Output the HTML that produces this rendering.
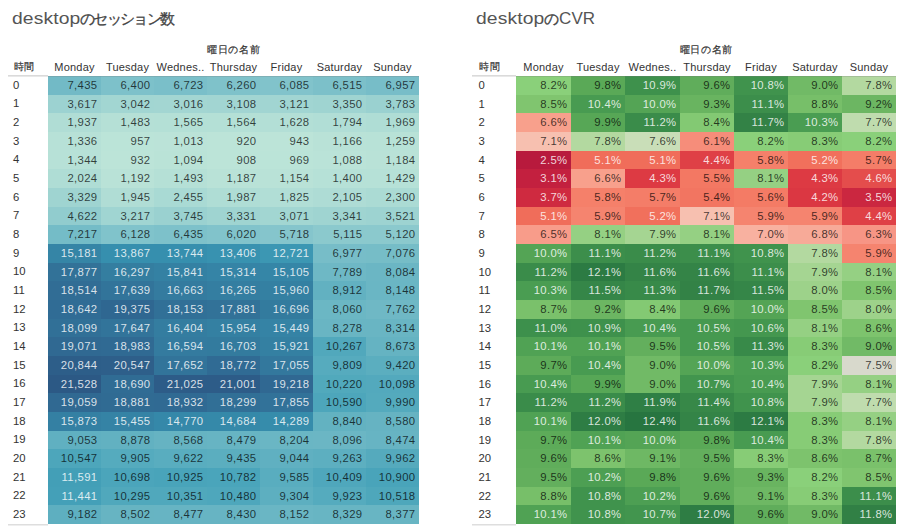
<!DOCTYPE html>
<html><head><meta charset="utf-8"><style>
html,body{margin:0;padding:0;background:#fff;width:904px;height:530px;overflow:hidden;position:relative}
body{font-family:"Liberation Sans",sans-serif;}
div{position:absolute;box-sizing:border-box;white-space:nowrap}
.title{top:5.7px;font-size:16.5px;line-height:24px;color:#555}
.title .en{display:inline-block;transform:scaleX(1.17);transform-origin:0 0;margin-right:10px;letter-spacing:0.1px}
.title .jp{font-size:15px;letter-spacing:-1.7px;color:#444;-webkit-text-stroke:0.3px #444}
.title .cvr{font-size:17px;margin-left:1.5px}
.dayhdr{top:42px;height:16px;line-height:16px;font-size:9.9px;letter-spacing:0.7px;text-indent:0.7px;color:#333;text-align:center;-webkit-text-stroke:0.2px #333}
.hhdr{top:59px;height:16px;line-height:16px;font-size:10px;letter-spacing:0.6px;margin-left:0.6px;color:#333;-webkit-text-stroke:0.2px #333}
.colhdr{top:59px;height:16px;line-height:16px;font-size:11px;color:#333;text-align:center;letter-spacing:0.2px}
.hline{height:2px;background:#dadada;border-bottom:1px solid #e8e8e8}
.hline2{height:1px;background:rgba(120,120,120,0.25);z-index:2}
.hline.b{height:2px;background:#dedede;border-bottom:1px solid #eeeeee}
.rl{height:18.666666666666668px;line-height:18.666666666666668px;font-size:11.3px;color:#333}
.c{font-size:11.3px;color:rgba(0,0,0,0.72);text-align:right;letter-spacing:0.35px}
.c.w{color:rgba(255,255,255,0.82)}
</style></head><body>
<div class="title" style="left:11.5px"><span class="en">desktop</span><span class="jp">のセッション数</span></div>
<div class="dayhdr" style="left:48px;width:371.0px">曜日の名前</div>
<div class="hhdr" style="left:13px">時間</div>
<div class="colhdr" style="left:48px;width:53px">Monday</div>
<div class="colhdr" style="left:101px;width:53px">Tuesday</div>
<div class="colhdr" style="left:154px;width:53px">Wednes..</div>
<div class="colhdr" style="left:207px;width:53px">Thursday</div>
<div class="colhdr" style="left:260px;width:53px">Friday</div>
<div class="colhdr" style="left:313px;width:53px">Saturday</div>
<div class="colhdr" style="left:366px;width:53px">Sunday</div>
<div class="hline" style="left:8px;width:40px;top:75px"></div>
<div class="hline2" style="left:48px;width:371px;top:76px"></div>
<div class="hline b" style="left:8px;width:40px;top:524px"></div>
<div class="rl" style="left:13px;top:75.8px">0</div>
<div class="c" style="left:48px;top:76px;width:53px;height:19px;line-height:19px;padding-right:3.6px;background:#72bac6">7,435</div>
<div class="c" style="left:101px;top:76px;width:53px;height:19px;line-height:19px;padding-right:3.6px;background:#7dc1ca">6,400</div>
<div class="c" style="left:154px;top:76px;width:53px;height:19px;line-height:19px;padding-right:3.6px;background:#7abfc9">6,723</div>
<div class="c" style="left:207px;top:76px;width:53px;height:19px;line-height:19px;padding-right:3.6px;background:#7fc2ca">6,260</div>
<div class="c" style="left:260px;top:76px;width:53px;height:19px;line-height:19px;padding-right:3.6px;background:#81c3cb">6,085</div>
<div class="c" style="left:313px;top:76px;width:53px;height:19px;line-height:19px;padding-right:3.6px;background:#7cc0c9">6,515</div>
<div class="c" style="left:366px;top:76px;width:53px;height:19px;line-height:19px;padding-right:3.6px;background:#77bdc8">6,957</div>
<div class="rl" style="left:13px;top:94.46666666666667px">1</div>
<div class="c" style="left:48px;top:95px;width:53px;height:18px;line-height:18px;padding-right:3.6px;background:#9cd2d1">3,617</div>
<div class="c" style="left:101px;top:95px;width:53px;height:18px;line-height:18px;padding-right:3.6px;background:#a2d6d2">3,042</div>
<div class="c" style="left:154px;top:95px;width:53px;height:18px;line-height:18px;padding-right:3.6px;background:#a3d6d2">3,016</div>
<div class="c" style="left:207px;top:95px;width:53px;height:18px;line-height:18px;padding-right:3.6px;background:#a2d5d2">3,108</div>
<div class="c" style="left:260px;top:95px;width:53px;height:18px;line-height:18px;padding-right:3.6px;background:#a1d5d2">3,121</div>
<div class="c" style="left:313px;top:95px;width:53px;height:18px;line-height:18px;padding-right:3.6px;background:#9fd4d1">3,350</div>
<div class="c" style="left:366px;top:95px;width:53px;height:18px;line-height:18px;padding-right:3.6px;background:#9ad1d0">3,783</div>
<div class="rl" style="left:13px;top:113.13333333333334px">2</div>
<div class="c" style="left:48px;top:113px;width:53px;height:19px;line-height:19px;padding-right:3.6px;background:#b0ddd5">1,937</div>
<div class="c" style="left:101px;top:113px;width:53px;height:19px;line-height:19px;padding-right:3.6px;background:#b5e0d6">1,483</div>
<div class="c" style="left:154px;top:113px;width:53px;height:19px;line-height:19px;padding-right:3.6px;background:#b4e0d6">1,565</div>
<div class="c" style="left:207px;top:113px;width:53px;height:19px;line-height:19px;padding-right:3.6px;background:#b4e0d6">1,564</div>
<div class="c" style="left:260px;top:113px;width:53px;height:19px;line-height:19px;padding-right:3.6px;background:#b3dfd6">1,628</div>
<div class="c" style="left:313px;top:113px;width:53px;height:19px;line-height:19px;padding-right:3.6px;background:#b1ded6">1,794</div>
<div class="c" style="left:366px;top:113px;width:53px;height:19px;line-height:19px;padding-right:3.6px;background:#afddd5">1,969</div>
<div class="rl" style="left:13px;top:131.8px">3</div>
<div class="c" style="left:48px;top:132px;width:53px;height:19px;line-height:19px;padding-right:3.6px;background:#b7e1d7">1,336</div>
<div class="c" style="left:101px;top:132px;width:53px;height:19px;line-height:19px;padding-right:3.6px;background:#bbe4d8">957</div>
<div class="c" style="left:154px;top:132px;width:53px;height:19px;line-height:19px;padding-right:3.6px;background:#bbe3d8">1,013</div>
<div class="c" style="left:207px;top:132px;width:53px;height:19px;line-height:19px;padding-right:3.6px;background:#bce4d8">920</div>
<div class="c" style="left:260px;top:132px;width:53px;height:19px;line-height:19px;padding-right:3.6px;background:#bce4d8">943</div>
<div class="c" style="left:313px;top:132px;width:53px;height:19px;line-height:19px;padding-right:3.6px;background:#b9e2d7">1,166</div>
<div class="c" style="left:366px;top:132px;width:53px;height:19px;line-height:19px;padding-right:3.6px;background:#b8e2d7">1,259</div>
<div class="rl" style="left:13px;top:150.4666666666667px">4</div>
<div class="c" style="left:48px;top:151px;width:53px;height:18px;line-height:18px;padding-right:3.6px;background:#b7e1d7">1,344</div>
<div class="c" style="left:101px;top:151px;width:53px;height:18px;line-height:18px;padding-right:3.6px;background:#bce4d8">932</div>
<div class="c" style="left:154px;top:151px;width:53px;height:18px;line-height:18px;padding-right:3.6px;background:#bae3d7">1,094</div>
<div class="c" style="left:207px;top:151px;width:53px;height:18px;line-height:18px;padding-right:3.6px;background:#bce4d8">908</div>
<div class="c" style="left:260px;top:151px;width:53px;height:18px;line-height:18px;padding-right:3.6px;background:#bbe4d8">969</div>
<div class="c" style="left:313px;top:151px;width:53px;height:18px;line-height:18px;padding-right:3.6px;background:#bae3d8">1,088</div>
<div class="c" style="left:366px;top:151px;width:53px;height:18px;line-height:18px;padding-right:3.6px;background:#b9e2d7">1,184</div>
<div class="rl" style="left:13px;top:169.13333333333335px">5</div>
<div class="c" style="left:48px;top:169px;width:53px;height:19px;line-height:19px;padding-right:3.6px;background:#afddd5">2,024</div>
<div class="c" style="left:101px;top:169px;width:53px;height:19px;line-height:19px;padding-right:3.6px;background:#b9e2d7">1,192</div>
<div class="c" style="left:154px;top:169px;width:53px;height:19px;line-height:19px;padding-right:3.6px;background:#b5e0d6">1,493</div>
<div class="c" style="left:207px;top:169px;width:53px;height:19px;line-height:19px;padding-right:3.6px;background:#b9e2d7">1,187</div>
<div class="c" style="left:260px;top:169px;width:53px;height:19px;line-height:19px;padding-right:3.6px;background:#b9e2d7">1,154</div>
<div class="c" style="left:313px;top:169px;width:53px;height:19px;line-height:19px;padding-right:3.6px;background:#b6e1d7">1,400</div>
<div class="c" style="left:366px;top:169px;width:53px;height:19px;line-height:19px;padding-right:3.6px;background:#b6e1d7">1,429</div>
<div class="rl" style="left:13px;top:187.8px">6</div>
<div class="c" style="left:48px;top:188px;width:53px;height:19px;line-height:19px;padding-right:3.6px;background:#9fd4d1">3,329</div>
<div class="c" style="left:101px;top:188px;width:53px;height:19px;line-height:19px;padding-right:3.6px;background:#b0ddd5">1,945</div>
<div class="c" style="left:154px;top:188px;width:53px;height:19px;line-height:19px;padding-right:3.6px;background:#a9dad4">2,455</div>
<div class="c" style="left:207px;top:188px;width:53px;height:19px;line-height:19px;padding-right:3.6px;background:#afddd5">1,987</div>
<div class="c" style="left:260px;top:188px;width:53px;height:19px;line-height:19px;padding-right:3.6px;background:#b1ded6">1,825</div>
<div class="c" style="left:313px;top:188px;width:53px;height:19px;line-height:19px;padding-right:3.6px;background:#aedcd5">2,105</div>
<div class="c" style="left:366px;top:188px;width:53px;height:19px;line-height:19px;padding-right:3.6px;background:#abdbd4">2,300</div>
<div class="rl" style="left:13px;top:206.4666666666667px">7</div>
<div class="c" style="left:48px;top:207px;width:53px;height:18px;line-height:18px;padding-right:3.6px;background:#91ccce">4,622</div>
<div class="c" style="left:101px;top:207px;width:53px;height:18px;line-height:18px;padding-right:3.6px;background:#a0d5d2">3,217</div>
<div class="c" style="left:154px;top:207px;width:53px;height:18px;line-height:18px;padding-right:3.6px;background:#9ad1d0">3,745</div>
<div class="c" style="left:207px;top:207px;width:53px;height:18px;line-height:18px;padding-right:3.6px;background:#9fd4d1">3,331</div>
<div class="c" style="left:260px;top:207px;width:53px;height:18px;line-height:18px;padding-right:3.6px;background:#a2d6d2">3,071</div>
<div class="c" style="left:313px;top:207px;width:53px;height:18px;line-height:18px;padding-right:3.6px;background:#9fd4d1">3,341</div>
<div class="c" style="left:366px;top:207px;width:53px;height:18px;line-height:18px;padding-right:3.6px;background:#9dd3d1">3,521</div>
<div class="rl" style="left:13px;top:225.13333333333335px">8</div>
<div class="c" style="left:48px;top:225px;width:53px;height:19px;line-height:19px;padding-right:3.6px;background:#74bcc7">7,217</div>
<div class="c" style="left:101px;top:225px;width:53px;height:19px;line-height:19px;padding-right:3.6px;background:#80c3cb">6,128</div>
<div class="c" style="left:154px;top:225px;width:53px;height:19px;line-height:19px;padding-right:3.6px;background:#7dc1ca">6,435</div>
<div class="c" style="left:207px;top:225px;width:53px;height:19px;line-height:19px;padding-right:3.6px;background:#81c3cb">6,020</div>
<div class="c" style="left:260px;top:225px;width:53px;height:19px;line-height:19px;padding-right:3.6px;background:#85c5cc">5,718</div>
<div class="c" style="left:313px;top:225px;width:53px;height:19px;line-height:19px;padding-right:3.6px;background:#8bc9cd">5,115</div>
<div class="c" style="left:366px;top:225px;width:53px;height:19px;line-height:19px;padding-right:3.6px;background:#8bc9cd">5,120</div>
<div class="rl" style="left:13px;top:243.8px">9</div>
<div class="c w" style="left:48px;top:244px;width:53px;height:19px;line-height:19px;padding-right:3.6px;background:#3585a6">15,181</div>
<div class="c w" style="left:101px;top:244px;width:53px;height:19px;line-height:19px;padding-right:3.6px;background:#368fae">13,867</div>
<div class="c w" style="left:154px;top:244px;width:53px;height:19px;line-height:19px;padding-right:3.6px;background:#368fae">13,744</div>
<div class="c w" style="left:207px;top:244px;width:53px;height:19px;line-height:19px;padding-right:3.6px;background:#3892b0">13,406</div>
<div class="c w" style="left:260px;top:244px;width:53px;height:19px;line-height:19px;padding-right:3.6px;background:#3c97b3">12,721</div>
<div class="c" style="left:313px;top:244px;width:53px;height:19px;line-height:19px;padding-right:3.6px;background:#77bdc8">6,977</div>
<div class="c" style="left:366px;top:244px;width:53px;height:19px;line-height:19px;padding-right:3.6px;background:#76bdc7">7,076</div>
<div class="rl" style="left:13px;top:262.4666666666667px">10</div>
<div class="c w" style="left:48px;top:263px;width:53px;height:18px;line-height:18px;padding-right:3.6px;background:#327298">17,877</div>
<div class="c w" style="left:101px;top:263px;width:53px;height:18px;line-height:18px;padding-right:3.6px;background:#347ea0">16,297</div>
<div class="c w" style="left:154px;top:263px;width:53px;height:18px;line-height:18px;padding-right:3.6px;background:#3481a3">15,841</div>
<div class="c w" style="left:207px;top:263px;width:53px;height:18px;line-height:18px;padding-right:3.6px;background:#3584a6">15,314</div>
<div class="c w" style="left:260px;top:263px;width:53px;height:18px;line-height:18px;padding-right:3.6px;background:#3586a7">15,105</div>
<div class="c" style="left:313px;top:263px;width:53px;height:18px;line-height:18px;padding-right:3.6px;background:#6eb8c5">7,789</div>
<div class="c" style="left:366px;top:263px;width:53px;height:18px;line-height:18px;padding-right:3.6px;background:#6bb6c4">8,084</div>
<div class="rl" style="left:13px;top:281.1333333333334px">11</div>
<div class="c w" style="left:48px;top:281px;width:53px;height:19px;line-height:19px;padding-right:3.6px;background:#316d95">18,514</div>
<div class="c w" style="left:101px;top:281px;width:53px;height:19px;line-height:19px;padding-right:3.6px;background:#32749a">17,639</div>
<div class="c w" style="left:154px;top:281px;width:53px;height:19px;line-height:19px;padding-right:3.6px;background:#347b9f">16,663</div>
<div class="c w" style="left:207px;top:281px;width:53px;height:19px;line-height:19px;padding-right:3.6px;background:#347ea1">16,265</div>
<div class="c w" style="left:260px;top:281px;width:53px;height:19px;line-height:19px;padding-right:3.6px;background:#3480a2">15,960</div>
<div class="c" style="left:313px;top:281px;width:53px;height:19px;line-height:19px;padding-right:3.6px;background:#62b1c1">8,912</div>
<div class="c" style="left:366px;top:281px;width:53px;height:19px;line-height:19px;padding-right:3.6px;background:#6ab6c4">8,148</div>
<div class="rl" style="left:13px;top:299.8px">12</div>
<div class="c w" style="left:48px;top:300px;width:53px;height:19px;line-height:19px;padding-right:3.6px;background:#306c95">18,642</div>
<div class="c w" style="left:101px;top:300px;width:53px;height:19px;line-height:19px;padding-right:3.6px;background:#2f6791">19,375</div>
<div class="c w" style="left:154px;top:300px;width:53px;height:19px;line-height:19px;padding-right:3.6px;background:#317097">18,153</div>
<div class="c w" style="left:207px;top:300px;width:53px;height:19px;line-height:19px;padding-right:3.6px;background:#327298">17,881</div>
<div class="c w" style="left:260px;top:300px;width:53px;height:19px;line-height:19px;padding-right:3.6px;background:#337b9e">16,696</div>
<div class="c" style="left:313px;top:300px;width:53px;height:19px;line-height:19px;padding-right:3.6px;background:#6bb7c4">8,060</div>
<div class="c" style="left:366px;top:300px;width:53px;height:19px;line-height:19px;padding-right:3.6px;background:#6fb8c5">7,762</div>
<div class="rl" style="left:13px;top:318.4666666666667px">13</div>
<div class="c w" style="left:48px;top:319px;width:53px;height:18px;line-height:18px;padding-right:3.6px;background:#317097">18,099</div>
<div class="c w" style="left:101px;top:319px;width:53px;height:18px;line-height:18px;padding-right:3.6px;background:#32749a">17,647</div>
<div class="c w" style="left:154px;top:319px;width:53px;height:18px;line-height:18px;padding-right:3.6px;background:#347da0">16,404</div>
<div class="c w" style="left:207px;top:319px;width:53px;height:18px;line-height:18px;padding-right:3.6px;background:#3480a2">15,954</div>
<div class="c w" style="left:260px;top:319px;width:53px;height:18px;line-height:18px;padding-right:3.6px;background:#3583a5">15,449</div>
<div class="c" style="left:313px;top:319px;width:53px;height:18px;line-height:18px;padding-right:3.6px;background:#69b5c3">8,278</div>
<div class="c" style="left:366px;top:319px;width:53px;height:18px;line-height:18px;padding-right:3.6px;background:#69b5c3">8,314</div>
<div class="rl" style="left:13px;top:337.1333333333334px">14</div>
<div class="c w" style="left:48px;top:337px;width:53px;height:19px;line-height:19px;padding-right:3.6px;background:#306992">19,071</div>
<div class="c w" style="left:101px;top:337px;width:53px;height:19px;line-height:19px;padding-right:3.6px;background:#306a93">18,983</div>
<div class="c w" style="left:154px;top:337px;width:53px;height:19px;line-height:19px;padding-right:3.6px;background:#347b9f">16,594</div>
<div class="c w" style="left:207px;top:337px;width:53px;height:19px;line-height:19px;padding-right:3.6px;background:#337b9e">16,703</div>
<div class="c w" style="left:260px;top:337px;width:53px;height:19px;line-height:19px;padding-right:3.6px;background:#3480a2">15,921</div>
<div class="c" style="left:313px;top:337px;width:53px;height:19px;line-height:19px;padding-right:3.6px;background:#51a8bc">10,267</div>
<div class="c" style="left:366px;top:337px;width:53px;height:19px;line-height:19px;padding-right:3.6px;background:#65b3c2">8,673</div>
<div class="rl" style="left:13px;top:355.8px">15</div>
<div class="c w" style="left:48px;top:356px;width:53px;height:19px;line-height:19px;padding-right:3.6px;background:#2d5e89">20,844</div>
<div class="c w" style="left:101px;top:356px;width:53px;height:19px;line-height:19px;padding-right:3.6px;background:#2e5f8a">20,547</div>
<div class="c w" style="left:154px;top:356px;width:53px;height:19px;line-height:19px;padding-right:3.6px;background:#32749a">17,652</div>
<div class="c w" style="left:207px;top:356px;width:53px;height:19px;line-height:19px;padding-right:3.6px;background:#306b94">18,772</div>
<div class="c w" style="left:260px;top:356px;width:53px;height:19px;line-height:19px;padding-right:3.6px;background:#33789d">17,055</div>
<div class="c" style="left:313px;top:356px;width:53px;height:19px;line-height:19px;padding-right:3.6px;background:#56abbe">9,809</div>
<div class="c" style="left:366px;top:356px;width:53px;height:19px;line-height:19px;padding-right:3.6px;background:#5baebf">9,420</div>
<div class="rl" style="left:13px;top:374.4666666666667px">16</div>
<div class="c w" style="left:48px;top:375px;width:53px;height:18px;line-height:18px;padding-right:3.6px;background:#2c5985">21,528</div>
<div class="c w" style="left:101px;top:375px;width:53px;height:18px;line-height:18px;padding-right:3.6px;background:#306c94">18,690</div>
<div class="c w" style="left:154px;top:375px;width:53px;height:18px;line-height:18px;padding-right:3.6px;background:#2d5c88">21,025</div>
<div class="c w" style="left:207px;top:375px;width:53px;height:18px;line-height:18px;padding-right:3.6px;background:#2d5c88">21,001</div>
<div class="c w" style="left:260px;top:375px;width:53px;height:18px;line-height:18px;padding-right:3.6px;background:#306892">19,218</div>
<div class="c" style="left:313px;top:375px;width:53px;height:18px;line-height:18px;padding-right:3.6px;background:#51a9bc">10,220</div>
<div class="c" style="left:366px;top:375px;width:53px;height:18px;line-height:18px;padding-right:3.6px;background:#53a9bd">10,098</div>
<div class="rl" style="left:13px;top:393.1333333333334px">17</div>
<div class="c w" style="left:48px;top:393px;width:53px;height:19px;line-height:19px;padding-right:3.6px;background:#306992">19,059</div>
<div class="c w" style="left:101px;top:393px;width:53px;height:19px;line-height:19px;padding-right:3.6px;background:#306b93">18,881</div>
<div class="c w" style="left:154px;top:393px;width:53px;height:19px;line-height:19px;padding-right:3.6px;background:#306a93">18,932</div>
<div class="c w" style="left:207px;top:393px;width:53px;height:19px;line-height:19px;padding-right:3.6px;background:#316f96">18,299</div>
<div class="c w" style="left:260px;top:393px;width:53px;height:19px;line-height:19px;padding-right:3.6px;background:#327299">17,855</div>
<div class="c" style="left:313px;top:393px;width:53px;height:19px;line-height:19px;padding-right:3.6px;background:#4da6bb">10,590</div>
<div class="c" style="left:366px;top:393px;width:53px;height:19px;line-height:19px;padding-right:3.6px;background:#54aabd">9,990</div>
<div class="rl" style="left:13px;top:411.8px">18</div>
<div class="c w" style="left:48px;top:412px;width:53px;height:19px;line-height:19px;padding-right:3.6px;background:#3480a3">15,873</div>
<div class="c w" style="left:101px;top:412px;width:53px;height:19px;line-height:19px;padding-right:3.6px;background:#3583a5">15,455</div>
<div class="c w" style="left:154px;top:412px;width:53px;height:19px;line-height:19px;padding-right:3.6px;background:#3588a9">14,770</div>
<div class="c w" style="left:207px;top:412px;width:53px;height:19px;line-height:19px;padding-right:3.6px;background:#3589a9">14,684</div>
<div class="c w" style="left:260px;top:412px;width:53px;height:19px;line-height:19px;padding-right:3.6px;background:#368cab">14,289</div>
<div class="c" style="left:313px;top:412px;width:53px;height:19px;line-height:19px;padding-right:3.6px;background:#63b2c1">8,840</div>
<div class="c" style="left:366px;top:412px;width:53px;height:19px;line-height:19px;padding-right:3.6px;background:#66b3c2">8,580</div>
<div class="rl" style="left:13px;top:430.4666666666667px">19</div>
<div class="c" style="left:48px;top:431px;width:53px;height:18px;line-height:18px;padding-right:3.6px;background:#60b0c1">9,053</div>
<div class="c" style="left:101px;top:431px;width:53px;height:18px;line-height:18px;padding-right:3.6px;background:#62b1c1">8,878</div>
<div class="c" style="left:154px;top:431px;width:53px;height:18px;line-height:18px;padding-right:3.6px;background:#66b3c2">8,568</div>
<div class="c" style="left:207px;top:431px;width:53px;height:18px;line-height:18px;padding-right:3.6px;background:#67b4c3">8,479</div>
<div class="c" style="left:260px;top:431px;width:53px;height:18px;line-height:18px;padding-right:3.6px;background:#6ab6c4">8,204</div>
<div class="c" style="left:313px;top:431px;width:53px;height:18px;line-height:18px;padding-right:3.6px;background:#6bb6c4">8,096</div>
<div class="c" style="left:366px;top:431px;width:53px;height:18px;line-height:18px;padding-right:3.6px;background:#67b4c3">8,474</div>
<div class="rl" style="left:13px;top:449.1333333333334px">20</div>
<div class="c" style="left:48px;top:449px;width:53px;height:19px;line-height:19px;padding-right:3.6px;background:#4da6bb">10,547</div>
<div class="c" style="left:101px;top:449px;width:53px;height:19px;line-height:19px;padding-right:3.6px;background:#55abbe">9,905</div>
<div class="c" style="left:154px;top:449px;width:53px;height:19px;line-height:19px;padding-right:3.6px;background:#59adbf">9,622</div>
<div class="c" style="left:207px;top:449px;width:53px;height:19px;line-height:19px;padding-right:3.6px;background:#5baebf">9,435</div>
<div class="c" style="left:260px;top:449px;width:53px;height:19px;line-height:19px;padding-right:3.6px;background:#60b0c1">9,044</div>
<div class="c" style="left:313px;top:449px;width:53px;height:19px;line-height:19px;padding-right:3.6px;background:#5dafc0">9,263</div>
<div class="c" style="left:366px;top:449px;width:53px;height:19px;line-height:19px;padding-right:3.6px;background:#55aabd">9,962</div>
<div class="rl" style="left:13px;top:467.8px">21</div>
<div class="c w" style="left:48px;top:468px;width:53px;height:19px;line-height:19px;padding-right:3.6px;background:#439fb7">11,591</div>
<div class="c" style="left:101px;top:468px;width:53px;height:19px;line-height:19px;padding-right:3.6px;background:#4ba5bb">10,698</div>
<div class="c" style="left:154px;top:468px;width:53px;height:19px;line-height:19px;padding-right:3.6px;background:#49a4ba">10,925</div>
<div class="c" style="left:207px;top:468px;width:53px;height:19px;line-height:19px;padding-right:3.6px;background:#4aa5bb">10,782</div>
<div class="c" style="left:260px;top:468px;width:53px;height:19px;line-height:19px;padding-right:3.6px;background:#59adbf">9,585</div>
<div class="c" style="left:313px;top:468px;width:53px;height:19px;line-height:19px;padding-right:3.6px;background:#4fa7bc">10,409</div>
<div class="c" style="left:366px;top:468px;width:53px;height:19px;line-height:19px;padding-right:3.6px;background:#49a4ba">10,900</div>
<div class="rl" style="left:13px;top:486.4666666666667px">22</div>
<div class="c w" style="left:48px;top:487px;width:53px;height:18px;line-height:18px;padding-right:3.6px;background:#44a0b8">11,441</div>
<div class="c" style="left:101px;top:487px;width:53px;height:18px;line-height:18px;padding-right:3.6px;background:#50a8bc">10,295</div>
<div class="c" style="left:154px;top:487px;width:53px;height:18px;line-height:18px;padding-right:3.6px;background:#50a8bc">10,351</div>
<div class="c" style="left:207px;top:487px;width:53px;height:18px;line-height:18px;padding-right:3.6px;background:#4ea7bc">10,480</div>
<div class="c" style="left:260px;top:487px;width:53px;height:18px;line-height:18px;padding-right:3.6px;background:#5dafc0">9,304</div>
<div class="c" style="left:313px;top:487px;width:53px;height:18px;line-height:18px;padding-right:3.6px;background:#55abbe">9,923</div>
<div class="c" style="left:366px;top:487px;width:53px;height:18px;line-height:18px;padding-right:3.6px;background:#4ea7bb">10,518</div>
<div class="rl" style="left:13px;top:505.1333333333334px">23</div>
<div class="c" style="left:48px;top:505px;width:53px;height:19px;line-height:19px;padding-right:3.6px;background:#5eafc0">9,182</div>
<div class="c" style="left:101px;top:505px;width:53px;height:19px;line-height:19px;padding-right:3.6px;background:#67b4c2">8,502</div>
<div class="c" style="left:154px;top:505px;width:53px;height:19px;line-height:19px;padding-right:3.6px;background:#67b4c3">8,477</div>
<div class="c" style="left:207px;top:505px;width:53px;height:19px;line-height:19px;padding-right:3.6px;background:#67b4c3">8,430</div>
<div class="c" style="left:260px;top:505px;width:53px;height:19px;line-height:19px;padding-right:3.6px;background:#6ab6c4">8,152</div>
<div class="c" style="left:313px;top:505px;width:53px;height:19px;line-height:19px;padding-right:3.6px;background:#68b5c3">8,329</div>
<div class="c" style="left:366px;top:505px;width:53px;height:19px;line-height:19px;padding-right:3.6px;background:#68b5c3">8,377</div>
<div class="title" style="left:475.8px"><span class="en">desktop</span><span class="jp">の</span><span class="cvr">CVR</span></div>
<div class="dayhdr" style="left:516px;width:380.0px">曜日の名前</div>
<div class="hhdr" style="left:478.5px">時間</div>
<div class="colhdr" style="left:516px;width:55px">Monday</div>
<div class="colhdr" style="left:571px;width:54px">Tuesday</div>
<div class="colhdr" style="left:625px;width:55px">Wednes..</div>
<div class="colhdr" style="left:680px;width:54px">Thursday</div>
<div class="colhdr" style="left:734px;width:54px">Friday</div>
<div class="colhdr" style="left:788px;width:54px">Saturday</div>
<div class="colhdr" style="left:842px;width:54px">Sunday</div>
<div class="hline" style="left:472px;width:44px;top:75px"></div>
<div class="hline2" style="left:516px;width:380px;top:76px"></div>
<div class="hline b" style="left:472px;width:44px;top:524px"></div>
<div class="rl" style="left:478.5px;top:76.0px">0</div>
<div class="c" style="left:516px;top:76px;width:55px;height:19px;line-height:19px;padding-right:3.5px;background:#8ad07a">8.2%</div>
<div class="c" style="left:571px;top:76px;width:54px;height:19px;line-height:19px;padding-right:3.5px;background:#5aa957">9.8%</div>
<div class="c w" style="left:625px;top:76px;width:55px;height:19px;line-height:19px;padding-right:3.5px;background:#3e914c">10.9%</div>
<div class="c" style="left:680px;top:76px;width:54px;height:19px;line-height:19px;padding-right:3.5px;background:#60ad5b">9.6%</div>
<div class="c w" style="left:734px;top:76px;width:54px;height:19px;line-height:19px;padding-right:3.5px;background:#40934d">10.8%</div>
<div class="c" style="left:788px;top:76px;width:54px;height:19px;line-height:19px;padding-right:3.5px;background:#71ba66">9.0%</div>
<div class="c" style="left:842px;top:76px;width:54px;height:19px;line-height:19px;padding-right:3.5px;background:#b3d9a0">7.8%</div>
<div class="rl" style="left:478.5px;top:94.66666666666667px">1</div>
<div class="c" style="left:516px;top:95px;width:55px;height:18px;line-height:18px;padding-right:3.5px;background:#80c56f">8.5%</div>
<div class="c w" style="left:571px;top:95px;width:54px;height:18px;line-height:18px;padding-right:3.5px;background:#489b51">10.4%</div>
<div class="c w" style="left:625px;top:95px;width:55px;height:18px;line-height:18px;padding-right:3.5px;background:#54a455">10.0%</div>
<div class="c" style="left:680px;top:95px;width:54px;height:18px;line-height:18px;padding-right:3.5px;background:#69b460">9.3%</div>
<div class="c w" style="left:734px;top:95px;width:54px;height:18px;line-height:18px;padding-right:3.5px;background:#3c8e4b">11.1%</div>
<div class="c" style="left:788px;top:95px;width:54px;height:18px;line-height:18px;padding-right:3.5px;background:#77bf69">8.8%</div>
<div class="c" style="left:842px;top:95px;width:54px;height:18px;line-height:18px;padding-right:3.5px;background:#6cb662">9.2%</div>
<div class="rl" style="left:478.5px;top:113.33333333333334px">2</div>
<div class="c" style="left:516px;top:113px;width:55px;height:19px;line-height:19px;padding-right:3.5px;background:#f8a08c">6.6%</div>
<div class="c" style="left:571px;top:113px;width:54px;height:19px;line-height:19px;padding-right:3.5px;background:#57a756">9.9%</div>
<div class="c w" style="left:625px;top:113px;width:55px;height:19px;line-height:19px;padding-right:3.5px;background:#3a8c4a">11.2%</div>
<div class="c" style="left:680px;top:113px;width:54px;height:19px;line-height:19px;padding-right:3.5px;background:#83c973">8.4%</div>
<div class="c w" style="left:734px;top:113px;width:54px;height:19px;line-height:19px;padding-right:3.5px;background:#338246">11.7%</div>
<div class="c w" style="left:788px;top:113px;width:54px;height:19px;line-height:19px;padding-right:3.5px;background:#4a9d52">10.3%</div>
<div class="c" style="left:842px;top:113px;width:54px;height:19px;line-height:19px;padding-right:3.5px;background:#bfdcae">7.7%</div>
<div class="rl" style="left:478.5px;top:132.0px">3</div>
<div class="c" style="left:516px;top:132px;width:55px;height:19px;line-height:19px;padding-right:3.5px;background:#f7c0b0">7.1%</div>
<div class="c" style="left:571px;top:132px;width:54px;height:19px;line-height:19px;padding-right:3.5px;background:#b3d9a0">7.8%</div>
<div class="c" style="left:625px;top:132px;width:55px;height:19px;line-height:19px;padding-right:3.5px;background:#c9deb8">7.6%</div>
<div class="c" style="left:680px;top:132px;width:54px;height:19px;line-height:19px;padding-right:3.5px;background:#f68d7a">6.1%</div>
<div class="c" style="left:734px;top:132px;width:54px;height:19px;line-height:19px;padding-right:3.5px;background:#8ad07a">8.2%</div>
<div class="c" style="left:788px;top:132px;width:54px;height:19px;line-height:19px;padding-right:3.5px;background:#87cc76">8.3%</div>
<div class="c" style="left:842px;top:132px;width:54px;height:19px;line-height:19px;padding-right:3.5px;background:#8ad07a">8.2%</div>
<div class="rl" style="left:478.5px;top:150.66666666666669px">4</div>
<div class="c w" style="left:516px;top:151px;width:55px;height:18px;line-height:18px;padding-right:3.5px;background:#b81a3d">2.5%</div>
<div class="c w" style="left:571px;top:151px;width:54px;height:18px;line-height:18px;padding-right:3.5px;background:#f06d5a">5.1%</div>
<div class="c w" style="left:625px;top:151px;width:55px;height:18px;line-height:18px;padding-right:3.5px;background:#f06d5a">5.1%</div>
<div class="c w" style="left:680px;top:151px;width:54px;height:18px;line-height:18px;padding-right:3.5px;background:#df4046">4.4%</div>
<div class="c" style="left:734px;top:151px;width:54px;height:18px;line-height:18px;padding-right:3.5px;background:#f5806a">5.8%</div>
<div class="c w" style="left:788px;top:151px;width:54px;height:18px;line-height:18px;padding-right:3.5px;background:#f1705c">5.2%</div>
<div class="c" style="left:842px;top:151px;width:54px;height:18px;line-height:18px;padding-right:3.5px;background:#f47d68">5.7%</div>
<div class="rl" style="left:478.5px;top:169.33333333333334px">5</div>
<div class="c w" style="left:516px;top:169px;width:55px;height:19px;line-height:19px;padding-right:3.5px;background:#c3203f">3.1%</div>
<div class="c" style="left:571px;top:169px;width:54px;height:19px;line-height:19px;padding-right:3.5px;background:#f8a08c">6.6%</div>
<div class="c w" style="left:625px;top:169px;width:55px;height:19px;line-height:19px;padding-right:3.5px;background:#dd3a43">4.3%</div>
<div class="c" style="left:680px;top:169px;width:54px;height:19px;line-height:19px;padding-right:3.5px;background:#f37863">5.5%</div>
<div class="c" style="left:734px;top:169px;width:54px;height:19px;line-height:19px;padding-right:3.5px;background:#95d083">8.1%</div>
<div class="c w" style="left:788px;top:169px;width:54px;height:19px;line-height:19px;padding-right:3.5px;background:#dd3a43">4.3%</div>
<div class="c w" style="left:842px;top:169px;width:54px;height:19px;line-height:19px;padding-right:3.5px;background:#e44d4c">4.6%</div>
<div class="rl" style="left:478.5px;top:188.0px">6</div>
<div class="c w" style="left:516px;top:188px;width:55px;height:19px;line-height:19px;padding-right:3.5px;background:#cf2a40">3.7%</div>
<div class="c" style="left:571px;top:188px;width:54px;height:19px;line-height:19px;padding-right:3.5px;background:#f5806a">5.8%</div>
<div class="c" style="left:625px;top:188px;width:55px;height:19px;line-height:19px;padding-right:3.5px;background:#f47d68">5.7%</div>
<div class="c" style="left:680px;top:188px;width:54px;height:19px;line-height:19px;padding-right:3.5px;background:#f27561">5.4%</div>
<div class="c" style="left:734px;top:188px;width:54px;height:19px;line-height:19px;padding-right:3.5px;background:#f47b65">5.6%</div>
<div class="c w" style="left:788px;top:188px;width:54px;height:19px;line-height:19px;padding-right:3.5px;background:#db3742">4.2%</div>
<div class="c w" style="left:842px;top:188px;width:54px;height:19px;line-height:19px;padding-right:3.5px;background:#cb2740">3.5%</div>
<div class="rl" style="left:478.5px;top:206.66666666666669px">7</div>
<div class="c w" style="left:516px;top:207px;width:55px;height:18px;line-height:18px;padding-right:3.5px;background:#f06d5a">5.1%</div>
<div class="c" style="left:571px;top:207px;width:54px;height:18px;line-height:18px;padding-right:3.5px;background:#f5846f">5.9%</div>
<div class="c w" style="left:625px;top:207px;width:55px;height:18px;line-height:18px;padding-right:3.5px;background:#f1705c">5.2%</div>
<div class="c" style="left:680px;top:207px;width:54px;height:18px;line-height:18px;padding-right:3.5px;background:#f7c0b0">7.1%</div>
<div class="c" style="left:734px;top:207px;width:54px;height:18px;line-height:18px;padding-right:3.5px;background:#f5846f">5.9%</div>
<div class="c" style="left:788px;top:207px;width:54px;height:18px;line-height:18px;padding-right:3.5px;background:#f5846f">5.9%</div>
<div class="c w" style="left:842px;top:207px;width:54px;height:18px;line-height:18px;padding-right:3.5px;background:#df4046">4.4%</div>
<div class="rl" style="left:478.5px;top:225.33333333333334px">8</div>
<div class="c" style="left:516px;top:225px;width:55px;height:19px;line-height:19px;padding-right:3.5px;background:#f89c8a">6.5%</div>
<div class="c" style="left:571px;top:225px;width:54px;height:19px;line-height:19px;padding-right:3.5px;background:#95d083">8.1%</div>
<div class="c" style="left:625px;top:225px;width:55px;height:19px;line-height:19px;padding-right:3.5px;background:#a5d592">7.9%</div>
<div class="c" style="left:680px;top:225px;width:54px;height:19px;line-height:19px;padding-right:3.5px;background:#95d083">8.1%</div>
<div class="c" style="left:734px;top:225px;width:54px;height:19px;line-height:19px;padding-right:3.5px;background:#f8b1a0">7.0%</div>
<div class="c" style="left:788px;top:225px;width:54px;height:19px;line-height:19px;padding-right:3.5px;background:#f7aa98">6.8%</div>
<div class="c" style="left:842px;top:225px;width:54px;height:19px;line-height:19px;padding-right:3.5px;background:#f79585">6.3%</div>
<div class="rl" style="left:478.5px;top:244.0px">9</div>
<div class="c w" style="left:516px;top:244px;width:55px;height:19px;line-height:19px;padding-right:3.5px;background:#54a455">10.0%</div>
<div class="c w" style="left:571px;top:244px;width:54px;height:19px;line-height:19px;padding-right:3.5px;background:#3c8e4b">11.1%</div>
<div class="c w" style="left:625px;top:244px;width:55px;height:19px;line-height:19px;padding-right:3.5px;background:#3a8c4a">11.2%</div>
<div class="c w" style="left:680px;top:244px;width:54px;height:19px;line-height:19px;padding-right:3.5px;background:#3c8e4b">11.1%</div>
<div class="c w" style="left:734px;top:244px;width:54px;height:19px;line-height:19px;padding-right:3.5px;background:#40934d">10.8%</div>
<div class="c" style="left:788px;top:244px;width:54px;height:19px;line-height:19px;padding-right:3.5px;background:#b3d9a0">7.8%</div>
<div class="c" style="left:842px;top:244px;width:54px;height:19px;line-height:19px;padding-right:3.5px;background:#f5846f">5.9%</div>
<div class="rl" style="left:478.5px;top:262.6666666666667px">10</div>
<div class="c w" style="left:516px;top:263px;width:55px;height:18px;line-height:18px;padding-right:3.5px;background:#3a8c4a">11.2%</div>
<div class="c w" style="left:571px;top:263px;width:54px;height:18px;line-height:18px;padding-right:3.5px;background:#2c7b43">12.1%</div>
<div class="c w" style="left:625px;top:263px;width:55px;height:18px;line-height:18px;padding-right:3.5px;background:#348447">11.6%</div>
<div class="c w" style="left:680px;top:263px;width:54px;height:18px;line-height:18px;padding-right:3.5px;background:#348447">11.6%</div>
<div class="c w" style="left:734px;top:263px;width:54px;height:18px;line-height:18px;padding-right:3.5px;background:#3c8e4b">11.1%</div>
<div class="c" style="left:788px;top:263px;width:54px;height:18px;line-height:18px;padding-right:3.5px;background:#a5d592">7.9%</div>
<div class="c" style="left:842px;top:263px;width:54px;height:18px;line-height:18px;padding-right:3.5px;background:#95d083">8.1%</div>
<div class="rl" style="left:478.5px;top:281.33333333333337px">11</div>
<div class="c w" style="left:516px;top:281px;width:55px;height:19px;line-height:19px;padding-right:3.5px;background:#4a9d52">10.3%</div>
<div class="c w" style="left:571px;top:281px;width:54px;height:19px;line-height:19px;padding-right:3.5px;background:#358648">11.5%</div>
<div class="c w" style="left:625px;top:281px;width:55px;height:19px;line-height:19px;padding-right:3.5px;background:#388a49">11.3%</div>
<div class="c w" style="left:680px;top:281px;width:54px;height:19px;line-height:19px;padding-right:3.5px;background:#338246">11.7%</div>
<div class="c w" style="left:734px;top:281px;width:54px;height:19px;line-height:19px;padding-right:3.5px;background:#358648">11.5%</div>
<div class="c" style="left:788px;top:281px;width:54px;height:19px;line-height:19px;padding-right:3.5px;background:#9dd28a">8.0%</div>
<div class="c" style="left:842px;top:281px;width:54px;height:19px;line-height:19px;padding-right:3.5px;background:#80c56f">8.5%</div>
<div class="rl" style="left:478.5px;top:300.0px">12</div>
<div class="c" style="left:516px;top:300px;width:55px;height:19px;line-height:19px;padding-right:3.5px;background:#7ac16b">8.7%</div>
<div class="c" style="left:571px;top:300px;width:54px;height:19px;line-height:19px;padding-right:3.5px;background:#6cb662">9.2%</div>
<div class="c" style="left:625px;top:300px;width:55px;height:19px;line-height:19px;padding-right:3.5px;background:#83c973">8.4%</div>
<div class="c" style="left:680px;top:300px;width:54px;height:19px;line-height:19px;padding-right:3.5px;background:#60ad5b">9.6%</div>
<div class="c w" style="left:734px;top:300px;width:54px;height:19px;line-height:19px;padding-right:3.5px;background:#54a455">10.0%</div>
<div class="c" style="left:788px;top:300px;width:54px;height:19px;line-height:19px;padding-right:3.5px;background:#80c56f">8.5%</div>
<div class="c" style="left:842px;top:300px;width:54px;height:19px;line-height:19px;padding-right:3.5px;background:#9dd28a">8.0%</div>
<div class="rl" style="left:478.5px;top:318.6666666666667px">13</div>
<div class="c w" style="left:516px;top:319px;width:55px;height:18px;line-height:18px;padding-right:3.5px;background:#3d904c">11.0%</div>
<div class="c w" style="left:571px;top:319px;width:54px;height:18px;line-height:18px;padding-right:3.5px;background:#3e914c">10.9%</div>
<div class="c w" style="left:625px;top:319px;width:55px;height:18px;line-height:18px;padding-right:3.5px;background:#489b51">10.4%</div>
<div class="c w" style="left:680px;top:319px;width:54px;height:18px;line-height:18px;padding-right:3.5px;background:#469950">10.5%</div>
<div class="c w" style="left:734px;top:319px;width:54px;height:18px;line-height:18px;padding-right:3.5px;background:#44974f">10.6%</div>
<div class="c" style="left:788px;top:319px;width:54px;height:18px;line-height:18px;padding-right:3.5px;background:#95d083">8.1%</div>
<div class="c" style="left:842px;top:319px;width:54px;height:18px;line-height:18px;padding-right:3.5px;background:#7dc36d">8.6%</div>
<div class="rl" style="left:478.5px;top:337.33333333333337px">14</div>
<div class="c w" style="left:516px;top:337px;width:55px;height:19px;line-height:19px;padding-right:3.5px;background:#50a254">10.1%</div>
<div class="c w" style="left:571px;top:337px;width:54px;height:19px;line-height:19px;padding-right:3.5px;background:#50a254">10.1%</div>
<div class="c" style="left:625px;top:337px;width:55px;height:19px;line-height:19px;padding-right:3.5px;background:#63af5d">9.5%</div>
<div class="c w" style="left:680px;top:337px;width:54px;height:19px;line-height:19px;padding-right:3.5px;background:#469950">10.5%</div>
<div class="c w" style="left:734px;top:337px;width:54px;height:19px;line-height:19px;padding-right:3.5px;background:#388a49">11.3%</div>
<div class="c" style="left:788px;top:337px;width:54px;height:19px;line-height:19px;padding-right:3.5px;background:#87cc76">8.3%</div>
<div class="c" style="left:842px;top:337px;width:54px;height:19px;line-height:19px;padding-right:3.5px;background:#71ba66">9.0%</div>
<div class="rl" style="left:478.5px;top:356.0px">15</div>
<div class="c" style="left:516px;top:356px;width:55px;height:19px;line-height:19px;padding-right:3.5px;background:#5dab59">9.7%</div>
<div class="c w" style="left:571px;top:356px;width:54px;height:19px;line-height:19px;padding-right:3.5px;background:#489b51">10.4%</div>
<div class="c" style="left:625px;top:356px;width:55px;height:19px;line-height:19px;padding-right:3.5px;background:#71ba66">9.0%</div>
<div class="c w" style="left:680px;top:356px;width:54px;height:19px;line-height:19px;padding-right:3.5px;background:#54a455">10.0%</div>
<div class="c w" style="left:734px;top:356px;width:54px;height:19px;line-height:19px;padding-right:3.5px;background:#4a9d52">10.3%</div>
<div class="c" style="left:788px;top:356px;width:54px;height:19px;line-height:19px;padding-right:3.5px;background:#8ad07a">8.2%</div>
<div class="c" style="left:842px;top:356px;width:54px;height:19px;line-height:19px;padding-right:3.5px;background:#d8d9cc">7.5%</div>
<div class="rl" style="left:478.5px;top:374.6666666666667px">16</div>
<div class="c w" style="left:516px;top:375px;width:55px;height:18px;line-height:18px;padding-right:3.5px;background:#489b51">10.4%</div>
<div class="c" style="left:571px;top:375px;width:54px;height:18px;line-height:18px;padding-right:3.5px;background:#57a756">9.9%</div>
<div class="c" style="left:625px;top:375px;width:55px;height:18px;line-height:18px;padding-right:3.5px;background:#71ba66">9.0%</div>
<div class="c w" style="left:680px;top:375px;width:54px;height:18px;line-height:18px;padding-right:3.5px;background:#42954e">10.7%</div>
<div class="c w" style="left:734px;top:375px;width:54px;height:18px;line-height:18px;padding-right:3.5px;background:#489b51">10.4%</div>
<div class="c" style="left:788px;top:375px;width:54px;height:18px;line-height:18px;padding-right:3.5px;background:#a5d592">7.9%</div>
<div class="c" style="left:842px;top:375px;width:54px;height:18px;line-height:18px;padding-right:3.5px;background:#95d083">8.1%</div>
<div class="rl" style="left:478.5px;top:393.33333333333337px">17</div>
<div class="c w" style="left:516px;top:393px;width:55px;height:19px;line-height:19px;padding-right:3.5px;background:#3a8c4a">11.2%</div>
<div class="c w" style="left:571px;top:393px;width:54px;height:19px;line-height:19px;padding-right:3.5px;background:#3a8c4a">11.2%</div>
<div class="c w" style="left:625px;top:393px;width:55px;height:19px;line-height:19px;padding-right:3.5px;background:#2f7f45">11.9%</div>
<div class="c w" style="left:680px;top:393px;width:54px;height:19px;line-height:19px;padding-right:3.5px;background:#378848">11.4%</div>
<div class="c w" style="left:734px;top:393px;width:54px;height:19px;line-height:19px;padding-right:3.5px;background:#40934d">10.8%</div>
<div class="c" style="left:788px;top:393px;width:54px;height:19px;line-height:19px;padding-right:3.5px;background:#a5d592">7.9%</div>
<div class="c" style="left:842px;top:393px;width:54px;height:19px;line-height:19px;padding-right:3.5px;background:#bfdcae">7.7%</div>
<div class="rl" style="left:478.5px;top:412.0px">18</div>
<div class="c w" style="left:516px;top:412px;width:55px;height:19px;line-height:19px;padding-right:3.5px;background:#50a254">10.1%</div>
<div class="c w" style="left:571px;top:412px;width:54px;height:19px;line-height:19px;padding-right:3.5px;background:#2e7d44">12.0%</div>
<div class="c w" style="left:625px;top:412px;width:55px;height:19px;line-height:19px;padding-right:3.5px;background:#277540">12.4%</div>
<div class="c w" style="left:680px;top:412px;width:54px;height:19px;line-height:19px;padding-right:3.5px;background:#348447">11.6%</div>
<div class="c w" style="left:734px;top:412px;width:54px;height:19px;line-height:19px;padding-right:3.5px;background:#2c7b43">12.1%</div>
<div class="c" style="left:788px;top:412px;width:54px;height:19px;line-height:19px;padding-right:3.5px;background:#87cc76">8.3%</div>
<div class="c" style="left:842px;top:412px;width:54px;height:19px;line-height:19px;padding-right:3.5px;background:#95d083">8.1%</div>
<div class="rl" style="left:478.5px;top:430.6666666666667px">19</div>
<div class="c" style="left:516px;top:431px;width:55px;height:18px;line-height:18px;padding-right:3.5px;background:#5dab59">9.7%</div>
<div class="c w" style="left:571px;top:431px;width:54px;height:18px;line-height:18px;padding-right:3.5px;background:#50a254">10.1%</div>
<div class="c w" style="left:625px;top:431px;width:55px;height:18px;line-height:18px;padding-right:3.5px;background:#54a455">10.0%</div>
<div class="c" style="left:680px;top:431px;width:54px;height:18px;line-height:18px;padding-right:3.5px;background:#5aa957">9.8%</div>
<div class="c w" style="left:734px;top:431px;width:54px;height:18px;line-height:18px;padding-right:3.5px;background:#489b51">10.4%</div>
<div class="c" style="left:788px;top:431px;width:54px;height:18px;line-height:18px;padding-right:3.5px;background:#87cc76">8.3%</div>
<div class="c" style="left:842px;top:431px;width:54px;height:18px;line-height:18px;padding-right:3.5px;background:#b3d9a0">7.8%</div>
<div class="rl" style="left:478.5px;top:449.33333333333337px">20</div>
<div class="c" style="left:516px;top:449px;width:55px;height:19px;line-height:19px;padding-right:3.5px;background:#60ad5b">9.6%</div>
<div class="c" style="left:571px;top:449px;width:54px;height:19px;line-height:19px;padding-right:3.5px;background:#7dc36d">8.6%</div>
<div class="c" style="left:625px;top:449px;width:55px;height:19px;line-height:19px;padding-right:3.5px;background:#6eb864">9.1%</div>
<div class="c" style="left:680px;top:449px;width:54px;height:19px;line-height:19px;padding-right:3.5px;background:#63af5d">9.5%</div>
<div class="c" style="left:734px;top:449px;width:54px;height:19px;line-height:19px;padding-right:3.5px;background:#87cc76">8.3%</div>
<div class="c" style="left:788px;top:449px;width:54px;height:19px;line-height:19px;padding-right:3.5px;background:#7dc36d">8.6%</div>
<div class="c" style="left:842px;top:449px;width:54px;height:19px;line-height:19px;padding-right:3.5px;background:#7ac16b">8.7%</div>
<div class="rl" style="left:478.5px;top:468.0px">21</div>
<div class="c" style="left:516px;top:468px;width:55px;height:19px;line-height:19px;padding-right:3.5px;background:#63af5d">9.5%</div>
<div class="c w" style="left:571px;top:468px;width:54px;height:19px;line-height:19px;padding-right:3.5px;background:#4d9f53">10.2%</div>
<div class="c" style="left:625px;top:468px;width:55px;height:19px;line-height:19px;padding-right:3.5px;background:#5aa957">9.8%</div>
<div class="c" style="left:680px;top:468px;width:54px;height:19px;line-height:19px;padding-right:3.5px;background:#60ad5b">9.6%</div>
<div class="c" style="left:734px;top:468px;width:54px;height:19px;line-height:19px;padding-right:3.5px;background:#69b460">9.3%</div>
<div class="c" style="left:788px;top:468px;width:54px;height:19px;line-height:19px;padding-right:3.5px;background:#8ad07a">8.2%</div>
<div class="c" style="left:842px;top:468px;width:54px;height:19px;line-height:19px;padding-right:3.5px;background:#80c56f">8.5%</div>
<div class="rl" style="left:478.5px;top:486.6666666666667px">22</div>
<div class="c" style="left:516px;top:487px;width:55px;height:18px;line-height:18px;padding-right:3.5px;background:#77bf69">8.8%</div>
<div class="c w" style="left:571px;top:487px;width:54px;height:18px;line-height:18px;padding-right:3.5px;background:#40934d">10.8%</div>
<div class="c w" style="left:625px;top:487px;width:55px;height:18px;line-height:18px;padding-right:3.5px;background:#4d9f53">10.2%</div>
<div class="c" style="left:680px;top:487px;width:54px;height:18px;line-height:18px;padding-right:3.5px;background:#60ad5b">9.6%</div>
<div class="c" style="left:734px;top:487px;width:54px;height:18px;line-height:18px;padding-right:3.5px;background:#6eb864">9.1%</div>
<div class="c" style="left:788px;top:487px;width:54px;height:18px;line-height:18px;padding-right:3.5px;background:#87cc76">8.3%</div>
<div class="c w" style="left:842px;top:487px;width:54px;height:18px;line-height:18px;padding-right:3.5px;background:#3c8e4b">11.1%</div>
<div class="rl" style="left:478.5px;top:505.33333333333337px">23</div>
<div class="c w" style="left:516px;top:505px;width:55px;height:19px;line-height:19px;padding-right:3.5px;background:#50a254">10.1%</div>
<div class="c w" style="left:571px;top:505px;width:54px;height:19px;line-height:19px;padding-right:3.5px;background:#40934d">10.8%</div>
<div class="c w" style="left:625px;top:505px;width:55px;height:19px;line-height:19px;padding-right:3.5px;background:#42954e">10.7%</div>
<div class="c w" style="left:680px;top:505px;width:54px;height:19px;line-height:19px;padding-right:3.5px;background:#2e7d44">12.0%</div>
<div class="c" style="left:734px;top:505px;width:54px;height:19px;line-height:19px;padding-right:3.5px;background:#60ad5b">9.6%</div>
<div class="c" style="left:788px;top:505px;width:54px;height:19px;line-height:19px;padding-right:3.5px;background:#71ba66">9.0%</div>
<div class="c w" style="left:842px;top:505px;width:54px;height:19px;line-height:19px;padding-right:3.5px;background:#318045">11.8%</div>
</body></html>
